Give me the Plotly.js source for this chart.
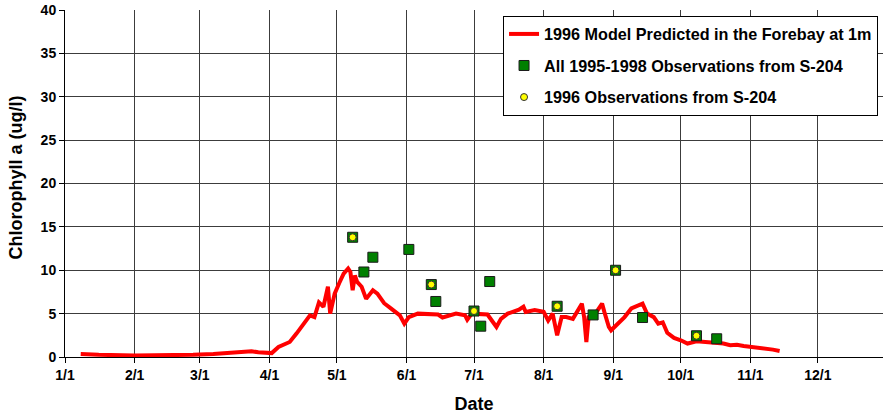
<!DOCTYPE html>
<html>
<head>
<meta charset="utf-8">
<script src="https://cdn.plot.ly/plotly-3.0.1.min.js"></script>
<style>
  html, body { margin: 0; padding: 0; background: #fff; overflow: hidden; }
  #chart { width: 883px; height: 414px; }
</style>
</head>
<body>
<div id="chart"></div>
<script>
// ---- Data ----
const modelDates = ['1996-01-08','1996-01-16','1996-02-01','1996-02-15','1996-02-27',
  '1996-03-07','1996-03-17','1996-03-24','1996-03-27','1996-03-30',
  '1996-04-02','1996-04-05','1996-04-10','1996-04-13','1996-04-16',
  '1996-04-19','1996-04-21','1996-04-23','1996-04-25','1996-04-27',
  '1996-04-28','1996-04-30','1996-05-02','1996-05-04','1996-05-06',
  '1996-05-07','1996-05-08','1996-05-09','1996-05-10','1996-05-12',
  '1996-05-14','1996-05-17','1996-05-19','1996-05-22','1996-05-25',
  '1996-05-29','1996-05-31','1996-06-02','1996-06-06','1996-06-15',
  '1996-06-17','1996-06-23','1996-06-27','1996-06-28','1996-06-30',
  '1996-07-04','1996-07-07','1996-07-11','1996-07-13','1996-07-16',
  '1996-07-21','1996-07-23','1996-07-24','1996-07-28','1996-08-01',
  '1996-08-03','1996-08-05','1996-08-07','1996-08-09','1996-08-11',
  '1996-08-14','1996-08-18','1996-08-19','1996-08-20','1996-08-21',
  '1996-08-24','1996-08-27','1996-08-28','1996-08-30','1996-08-31',
  '1996-09-03','1996-09-06','1996-09-09','1996-09-12','1996-09-14',
  '1996-09-16','1996-09-19','1996-09-21','1996-09-23','1996-09-25',
  '1996-09-28','1996-10-01','1996-10-04','1996-10-08','1996-10-12',
  '1996-10-15','1996-10-20','1996-10-23','1996-10-26','1996-10-29',
  '1996-11-03','1996-11-07','1996-11-11','1996-11-14'];
const modelChl = [0.35,0.25,0.18,0.17,0.25,
  0.35,0.54,0.66,0.55,0.45,
  0.45,1.15,1.73,2.7,3.66,
  4.8,4.6,6.3,5.8,8.1,
  5.0,7.3,8.5,9.6,10.2,
  9.8,7.7,9.4,8.65,8.1,
  6.7,7.7,7.3,6.2,5.6,
  4.8,3.85,4.6,5.0,4.9,
  4.55,5.0,4.8,4.3,5.0,
  5.0,4.9,3.46,4.4,5.0,
  5.45,5.8,5.2,5.4,5.2,
  4.2,5.0,2.5,4.6,4.6,
  4.4,6.15,4.6,1.73,4.6,
  5.0,6.15,5.2,3.46,3.08,
  3.85,4.6,5.6,5.97,6.15,
  5.0,4.6,3.85,4.0,2.8,
  2.2,1.93,1.55,1.81,1.73,
  1.62,1.55,1.35,1.42,1.27,
  1.15,0.97,0.85,0.7];

const allObsDates = ['1996-05-08','1996-05-13','1996-05-17','1996-06-02','1996-06-12',
  '1996-06-14','1996-07-01','1996-07-04','1996-07-08','1996-08-07',
  '1996-08-23','1996-09-02','1996-09-14','1996-10-08','1996-10-17'];
const allObsChl = [13.8,9.8,11.5,12.4,8.35,6.4,5.3,3.55,8.7,5.85,4.85,10.0,4.55,2.45,2.1];

const obs96Dates = ['1996-05-08','1996-06-12','1996-07-01','1996-08-07','1996-09-02','1996-10-08'];
const obs96Chl = [13.8,8.35,5.3,5.85,10.0,2.45];

const seriesNames = ['1996 Model Predicted in the Forebay at 1m',
  'All 1995-1998 Observations from S-204',
  '1996 Observations from S-204'];
const monthTicks = ['1996-01-01','1996-02-01','1996-03-01','1996-04-01','1996-05-01','1996-06-01',
  '1996-07-01','1996-08-01','1996-09-01','1996-10-01','1996-11-01','1996-12-01'];
const monthLabels = ['1/1','2/1','3/1','4/1','5/1','6/1','7/1','8/1','9/1','10/1','11/1','12/1'];
const xTitle = 'Date';
const yTitle = 'Chlorophyll a (ug/l)';

// ---- Chart ----
const FONT = 'Liberation Sans, Arial, sans-serif';

const traces = [
  {
    x: modelDates, y: modelChl, type: 'scatter', mode: 'lines',
    name: seriesNames[0], legendgroup: 'a',
    line: {color: '#FF0000', width: 4}
  },
  {
    x: allObsDates, y: allObsChl, type: 'scatter', mode: 'markers',
    name: seriesNames[1], legendgroup: 'b',
    marker: {symbol: 'square', size: 10, color: '#008000', line: {color: '#1a1a1a', width: 1}}
  },
  {
    x: obs96Dates, y: obs96Chl, type: 'scatter', mode: 'markers',
    name: seriesNames[2], legendgroup: 'c',
    marker: {symbol: 'circle', size: 7, color: '#FFFF00', line: {color: '#333333', width: 1}}
  }
];

const layout = {
  width: 883, height: 414,
  margin: {l: 65, r: 0, t: 10, b: 57},
  paper_bgcolor: '#ffffff', plot_bgcolor: '#ffffff',
  font: {family: FONT, color: '#000'},
  showlegend: true,
  legend: {
    x: 0.5355, y: 0.983, xanchor: 'left', yanchor: 'top',
    bgcolor: '#ffffff', bordercolor: '#000000', borderwidth: 1,
    font: {family: FONT, size: 16.2, weight: 'bold', color: '#000'},
    traceorder: 'grouped', tracegroupgap: 7.5
  },
  xaxis: {
    type: 'date',
    range: ['1996-01-01', '1996-12-30'],
    tickmode: 'array', tickvals: monthTicks, ticktext: monthLabels,
    tickfont: {family: FONT, size: 14, weight: 'bold'},
    ticks: 'outside', ticklen: 5, tickcolor: '#000',
    showgrid: true, gridcolor: '#3c3c3c', gridwidth: 1,
    showline: true, linecolor: '#000', linewidth: 1,
    zeroline: false,
    title: {text: xTitle, font: {family: FONT, size: 18, weight: 'bold'}, standoff: 15}
  },
  yaxis: {
    range: [0, 40], dtick: 5, tick0: 0,
    tickfont: {family: FONT, size: 14, weight: 'bold'},
    ticks: 'outside', ticklen: 5, tickcolor: '#000',
    showgrid: true, gridcolor: '#3c3c3c', gridwidth: 1,
    showline: true, linecolor: '#000', linewidth: 1,
    zeroline: false
  },
  annotations: [{
    text: yTitle, textangle: -90,
    xref: 'paper', yref: 'paper', x: -0.0605, y: 0.516,
    xanchor: 'center', yanchor: 'middle', showarrow: false,
    font: {family: FONT, size: 18, weight: 'bold', color: '#000'}
  }]
};

Plotly.newPlot('chart', traces, layout, {displayModeBar: false, staticPlot: true});
</script>
</body>
</html>
